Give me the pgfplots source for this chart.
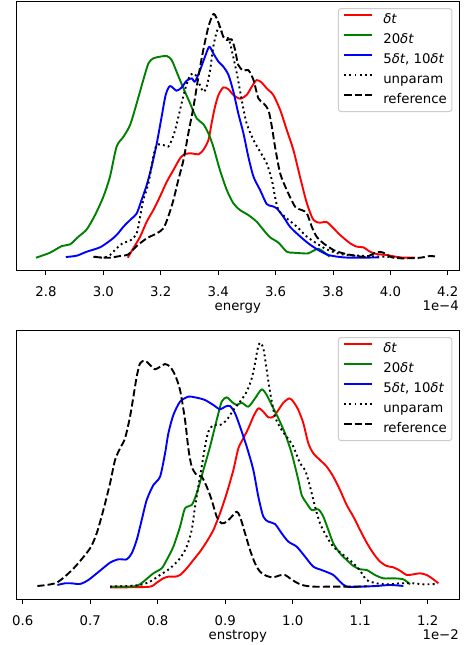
\documentclass[border=0pt]{standalone}
\usepackage{fontspec}
\setmainfont{DejaVu Sans}
\usepackage{pgfplots}
\pgfplotsset{compat=1.18}
\definecolor{mplred}{rgb}{1,0,0}
\definecolor{mplgreen}{rgb}{0,0.5,0}
\definecolor{mplblue}{rgb}{0,0,1}
\newcommand{\fs}{\fontsize{13.3bp}{15bp}\selectfont}
\pgfplotsset{
  kdeaxis/.style={
    scale only axis, width=442.3bp, clip mode=individual,
    ytick=\empty, xtick pos=left, tick align=outside,
    major tick length=4.5bp,
    every tick/.style={black, line width=1bp},
    axis line style={line width=1bp},
    font=\fs,
    xticklabel style={font=\fs, anchor=base, inner sep=0pt, yshift=-21.5bp},
    /pgf/number format/.cd, fixed, fixed zerofill, precision=1, assume math mode=true, /pgfplots/.cd,
    legend cell align=left,
    legend style={at={(axis description cs:1,1)}, anchor=north east, xshift=-6.7bp, yshift=-6.4bp,
      draw=black!20, line width=1bp, rounded corners=2.5bp, fill=white, fill opacity=0.8, text opacity=1,
      inner xsep=5bp, inner ysep=5.3bp, row sep=7.7bp, column sep=10bp,
      nodes={inner sep=0pt, text height=9.5bp, text depth=2.8bp}, font=\fs},
    legend image code/.code={\draw[##1, sharp plot] (0bp,4.8bp) -- (28bp,4.8bp);},
  },
}
\begin{document}
\begin{tikzpicture}
\useasboundingbox (-16.7bp,1.7bp) rectangle (449.3bp,-643.3bp);
\begin{axis}[kdeaxis, at={(0bp,0bp)}, anchor=north west, height=269bp,
  xmin=2.698, xmax=4.239, ymin=-39, ymax=768,
  xtick={2.8,3.0,3.2,3.4,3.6,3.8,4.0,4.2}]
\addplot[color=mplred, line width=1.9bp, line join=round, smooth, tension=0.45] coordinates {(3.085,0)(3.104,28)(3.128,63)(3.151,108)(3.174,143)(3.197,183)(3.221,228)(3.244,263)(3.267,298)(3.284,311)(3.308,313)(3.331,310)(3.348,323)(3.366,353)(3.377,403)(3.389,453)(3.401,488)(3.418,511)(3.436,505)(3.453,488)(3.476,477)(3.499,488)(3.517,513)(3.534,533)(3.552,525)(3.569,508)(3.592,488)(3.616,443)(3.639,383)(3.662,323)(3.685,243)(3.709,163)(3.732,113)(3.755,105)(3.778,107)(3.802,88)(3.825,68)(3.860,43)(3.883,33)(3.906,31)(3.929,18)(3.953,11)(3.987,8)(4.034,1)(4.086,0)};
\addlegendentry{\textit{δt}}
\addplot[color=mplgreen, line width=1.9bp, line join=round, smooth, tension=0.45] coordinates {(2.765,0)(2.814,15)(2.855,35)(2.884,40)(2.913,63)(2.942,85)(2.971,128)(3.000,183)(3.023,243)(3.046,333)(3.070,363)(3.093,398)(3.116,463)(3.139,533)(3.157,583)(3.174,598)(3.197,603)(3.221,605)(3.238,593)(3.255,558)(3.279,508)(3.302,463)(3.325,418)(3.348,401)(3.366,373)(3.383,333)(3.406,263)(3.430,203)(3.453,163)(3.476,143)(3.505,128)(3.534,108)(3.558,83)(3.581,61)(3.610,45)(3.639,18)(3.662,15)(3.697,13)(3.714,13)(3.732,21)(3.749,27)(3.767,18)(3.788,3)};
\addlegendentry{20\textit{δt}}
\addplot[color=mplblue, line width=1.9bp, line join=round, smooth, tension=0.45] coordinates {(2.869,2)(2.907,6)(2.942,18)(2.988,31)(3.023,51)(3.046,68)(3.070,93)(3.093,113)(3.116,133)(3.133,173)(3.151,218)(3.168,273)(3.186,343)(3.203,423)(3.217,488)(3.232,515)(3.255,501)(3.273,511)(3.290,531)(3.308,538)(3.319,528)(3.337,563)(3.354,603)(3.369,633)(3.383,613)(3.401,588)(3.418,573)(3.436,548)(3.453,498)(3.470,433)(3.488,373)(3.505,303)(3.523,243)(3.546,203)(3.569,161)(3.587,155)(3.604,148)(3.627,123)(3.650,93)(3.680,68)(3.714,43)(3.749,23)(3.784,8)(3.836,1)(3.894,0)(3.961,1)};
\addlegendentry{5\textit{δt}, 10\textit{δt}}
\addplot[color=black, line width=1.9bp, line join=round, smooth, tension=0.45, dash pattern=on 1.9bp off 3.2bp] coordinates {(2.971,3)(3.000,0)(3.023,8)(3.046,28)(3.070,45)(3.093,51)(3.116,73)(3.128,123)(3.139,173)(3.157,223)(3.174,303)(3.186,338)(3.209,338)(3.226,333)(3.238,353)(3.250,383)(3.267,443)(3.284,503)(3.302,548)(3.319,551)(3.331,528)(3.348,498)(3.360,513)(3.372,563)(3.383,633)(3.395,678)(3.406,693)(3.418,663)(3.436,658)(3.447,623)(3.465,553)(3.482,473)(3.499,403)(3.523,353)(3.546,318)(3.569,283)(3.587,233)(3.598,183)(3.610,143)(3.639,118)(3.674,93)(3.709,63)(3.743,43)(3.778,25)(3.825,11)(3.871,7)(3.918,5)(3.976,3)(4.034,0)};
\addlegendentry{unparam}
\addplot[color=black, line width=1.9bp, line join=round, smooth, tension=0.45, dash pattern=on 7.2bp off 3.1bp] coordinates {(2.965,3)(2.988,1)(3.023,0)(3.058,5)(3.087,10)(3.116,35)(3.151,58)(3.186,73)(3.209,88)(3.226,123)(3.244,173)(3.261,233)(3.279,293)(3.296,373)(3.314,453)(3.331,543)(3.348,623)(3.366,693)(3.383,731)(3.395,718)(3.406,693)(3.418,663)(3.430,653)(3.447,655)(3.459,623)(3.470,578)(3.488,561)(3.505,563)(3.523,533)(3.540,478)(3.558,463)(3.575,443)(3.587,393)(3.598,333)(3.616,253)(3.639,203)(3.668,153)(3.691,143)(3.709,133)(3.726,93)(3.743,63)(3.767,43)(3.802,23)(3.836,13)(3.883,5)(3.918,3)(3.953,17)(3.976,15)(4.005,1)(4.046,-2)(4.104,0)(4.138,5)(4.162,3)};
\addlegendentry{reference}
\node[anchor=base, inner sep=0pt, yshift=-40bp, font=\fs] at (rel axis cs:0.5,0) {energy};
\node[anchor=base east, inner sep=0pt, yshift=-40bp, font=\fs] at (rel axis cs:1,0) {1e−4};
\end{axis}
\begin{axis}[kdeaxis, at={(0bp,-329bp)}, anchor=north west, height=268.6bp,
  xmin=0.5911, xmax=1.2464, ymin=-38, ymax=768,
  xtick={0.6,0.7,0.8,0.9,1.0,1.1,1.2}]
\addplot[color=mplred, line width=1.9bp, line join=round, smooth, tension=0.45] coordinates {(0.7294,-2)(0.7541,-2)(0.7886,0)(0.7985,12)(0.8084,25)(0.8158,30)(0.8257,30)(0.8331,35)(0.8430,55)(0.8528,80)(0.8627,105)(0.8726,135)(0.8825,170)(0.8923,220)(0.9022,280)(0.9121,350)(0.9195,415)(0.9269,445)(0.9343,475)(0.9417,510)(0.9491,535)(0.9565,525)(0.9640,508)(0.9714,510)(0.9788,530)(0.9862,552)(0.9951,565)(1.0010,555)(1.0084,530)(1.0158,490)(1.0232,430)(1.0306,400)(1.0405,380)(1.0504,360)(1.0602,330)(1.0701,290)(1.0800,245)(1.0899,210)(1.0998,170)(1.1096,132)(1.1195,100)(1.1294,75)(1.1393,62)(1.1491,58)(1.1590,48)(1.1689,35)(1.1788,37)(1.1886,40)(1.1985,35)(1.2084,22)(1.2158,10)};
\addlegendentry{\textit{δt}}
\addplot[color=mplgreen, line width=1.9bp, line join=round, smooth, tension=0.45] coordinates {(0.7294,0)(0.7491,0)(0.7689,2)(0.7788,15)(0.7936,40)(0.8059,55)(0.8133,80)(0.8232,120)(0.8331,180)(0.8405,235)(0.8504,245)(0.8578,280)(0.8677,350)(0.8775,420)(0.8874,500)(0.8948,555)(0.9022,568)(0.9096,555)(0.9170,545)(0.9244,552)(0.9343,540)(0.9442,565)(0.9541,592)(0.9615,575)(0.9689,545)(0.9788,505)(0.9886,460)(0.9985,400)(1.0084,320)(1.0133,275)(1.0207,250)(1.0281,230)(1.0380,232)(1.0454,210)(1.0528,170)(1.0602,130)(1.0701,100)(1.0800,80)(1.0899,62)(1.0998,52)(1.1096,50)(1.1220,35)(1.1343,25)(1.1491,25)(1.1640,22)(1.1738,7)};
\addlegendentry{20\textit{δt}}
\addplot[color=mplblue, line width=1.9bp, line join=round, smooth, tension=0.45] coordinates {(0.6514,5)(0.6627,10)(0.6726,10)(0.6849,8)(0.6973,20)(0.7146,48)(0.7294,72)(0.7417,82)(0.7541,82)(0.7615,100)(0.7689,140)(0.7763,200)(0.7837,260)(0.7936,305)(0.8035,330)(0.8109,400)(0.8158,460)(0.8232,515)(0.8331,555)(0.8454,570)(0.8578,567)(0.8701,560)(0.8825,545)(0.8923,532)(0.8998,540)(0.9072,542)(0.9146,520)(0.9220,480)(0.9319,420)(0.9417,350)(0.9491,270)(0.9565,210)(0.9640,195)(0.9738,188)(0.9837,160)(0.9936,135)(1.0059,120)(1.0183,90)(1.0306,60)(1.0454,48)(1.0602,35)(1.0701,15)(1.0800,0)(1.0998,0)(1.1244,2)(1.1442,5)(1.1640,2)};
\addlegendentry{5\textit{δt}, 10\textit{δt}}
\addplot[color=black, line width=1.9bp, line join=round, smooth, tension=0.45, dash pattern=on 1.9bp off 3.2bp] coordinates {(0.7294,0)(0.7541,2)(0.7738,5)(0.7886,15)(0.8035,35)(0.8183,55)(0.8331,85)(0.8430,120)(0.8504,170)(0.8553,240)(0.8602,300)(0.8652,360)(0.8701,420)(0.8751,465)(0.8825,485)(0.8923,485)(0.9022,500)(0.9121,530)(0.9220,555)(0.9319,585)(0.9393,625)(0.9442,670)(0.9477,710)(0.9516,732)(0.9565,715)(0.9615,650)(0.9664,585)(0.9738,510)(0.9837,470)(0.9911,450)(1.0010,420)(1.0109,370)(1.0183,350)(1.0257,300)(1.0331,240)(1.0405,190)(1.0504,150)(1.0602,120)(1.0751,95)(1.0899,70)(1.0998,48)(1.1096,20)(1.1244,10)(1.1442,7)(1.1590,10)(1.1788,10)(1.1936,7)(1.2133,8)};
\addlegendentry{unparam}
\addplot[color=black, line width=1.9bp, line join=round, smooth, tension=0.45, dash pattern=on 7.2bp off 3.1bp] coordinates {(0.6217,2)(0.6356,5)(0.6504,12)(0.6652,35)(0.6800,65)(0.6998,115)(0.7096,160)(0.7195,230)(0.7294,310)(0.7368,380)(0.7442,415)(0.7516,445)(0.7590,510)(0.7640,570)(0.7689,630)(0.7738,670)(0.7812,678)(0.7886,665)(0.7960,652)(0.8035,660)(0.8109,668)(0.8183,660)(0.8257,635)(0.8331,590)(0.8405,500)(0.8454,415)(0.8504,360)(0.8578,335)(0.8652,330)(0.8726,300)(0.8800,260)(0.8874,210)(0.8948,190)(0.9022,195)(0.9096,210)(0.9170,225)(0.9220,210)(0.9294,160)(0.9368,110)(0.9442,70)(0.9516,45)(0.9615,32)(0.9714,28)(0.9812,34)(0.9886,35)(0.9960,25)(1.0059,12)(1.0158,4)(1.0306,0)(1.0602,0)(1.0899,0)(1.1096,1)};
\addlegendentry{reference}
\node[anchor=base, inner sep=0pt, yshift=-40bp, font=\fs] at (rel axis cs:0.5,0) {enstropy};
\node[anchor=base east, inner sep=0pt, yshift=-40bp, font=\fs] at (rel axis cs:1,0) {1e−2};
\end{axis}
\draw[cyan, line width=0.3bp] (-16.7bp,{(1.7-691.7)*1bp}) -- (449bp,{(1.7-691.7)*1bp});
\draw[cyan, line width=0.3bp] (-16.7bp,{(1.7-709.5)*1bp}) -- (449bp,{(1.7-709.5)*1bp});
\draw[cyan, line width=0.3bp] (-16.7bp,{(1.7-721.7)*1bp}) -- (449bp,{(1.7-721.7)*1bp});
\draw[cyan, line width=0.3bp] (-16.7bp,{(1.7-741.5)*1bp}) -- (449bp,{(1.7-741.5)*1bp});
\end{tikzpicture}
\end{document}
